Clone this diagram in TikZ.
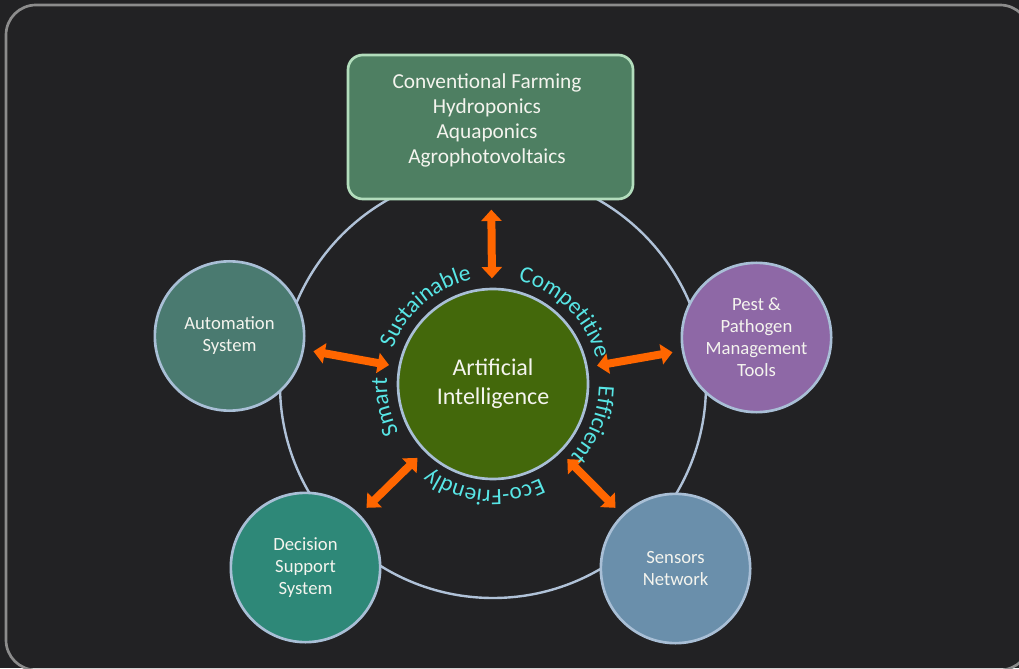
\documentclass[tikz,border=0pt]{standalone}
\usepackage{fontspec}
\setmainfont{Carlito}
\usetikzlibrary{arrows.meta,decorations.text}

\definecolor{bgdark}{HTML}{222224}
\definecolor{framegray}{HTML}{8C8C8C}
\definecolor{ringblue}{HTML}{B0C2D8}
\definecolor{edgeblue}{HTML}{A9BFD6}
\definecolor{farmgreen}{HTML}{4E7F62}
\definecolor{farmedge}{HTML}{B2DDBC}
\definecolor{aigreen}{HTML}{43680B}
\definecolor{autoteal}{HTML}{4A7A70}
\definecolor{pestpurple}{HTML}{8E68A6}
\definecolor{dssteal}{HTML}{2E8878}
\definecolor{sensblue}{HTML}{6A8FAB}
\definecolor{aicyan}{HTML}{58E6E6}
\definecolor{arrorange}{HTML}{FF6600}
\definecolor{softwhite}{HTML}{F4F4EE}

\newcommand\wordfont{\fontsize{17.5}{21}\selectfont\color{aicyan}}

\tikzset{
	sat/.style={circle,draw=edgeblue,line width=2pt,fill=#1,minimum size=112pt,
		align=center,text=softwhite,font=\fontsize{14}{16.5}\selectfont},
	link/.style={{Triangle[width=15pt,length=8.5pt]}-{Triangle[width=15pt,length=8.5pt]},
		draw=arrorange,line width=6pt,shorten <=7pt,shorten >=7pt},
	curvedword/.style={decorate,decoration={text along path,text align=center,
		text={|\wordfont|#1}}},
}

\begin{document}
\begin{tikzpicture}[x=0.75pt,y=0.75pt]
	%\draw[help lines] (0,0) grid[step=50] (1019,668);
	\useasboundingbox (0,0) rectangle (1019,668);
	\fill[bgdark] (0,0) rectangle (1019,668);
	\draw[framegray,line width=2pt,rounded corners=22.5pt] (6,-2) rectangle (1030,663);

	\node[circle,minimum size=319.5pt] (ring) at (493,283) {};
	\draw[ringblue,line width=1.8pt] (ring) circle (213);

	\node[draw=farmedge,fill=farmgreen,line width=2pt,rounded corners=11pt,
		minimum width=213.75pt,minimum height=108pt] (farm) at (490.5,541) {};
	\node[align=center,text=softwhite,font=\fontsize{16}{18.75}\selectfont]
		(farmtext) at (487,547.5) {Conventional Farming\\Hydroponics\\Aquaponics\\Agrophotovoltaics};

	\node[circle,draw=edgeblue,line width=2pt,fill=aigreen,minimum size=142.5pt,
		align=center,text=softwhite,font=\fontsize{18}{21.75}\selectfont]
		(ai) at (493,284) {Artificial\\Intelligence};

	\node[sat=autoteal] (auto) at (229.5,332) {Automation\\System};
	\node[sat=pestpurple] (pest) at (756.5,330.5) {Pest \&\\Pathogen\\Management\\Tools};
	\node[sat=dssteal] (dss) at (305.5,100.5) {Decision\\Support\\System};
	\node[sat=sensblue] (sensors) at (675.5,99.5) {Sensors\\Network};

	\draw[link] (farm) -- (ai);
	\draw[link] (auto) -- (ai);
	\draw[link] (pest) -- (ai);
	\draw[link] (dss) -- (ai);
	\draw[link] (sensors) -- (ai);

	% words round the hub, read clockwise
	\path[curvedword=Smart] (ai.center) ++(242:106) arc[start angle=242,end angle=142,radius=106];
	\path[curvedword=Sustainable] (ai.center) ++(181:106) arc[start angle=181,end angle=81,radius=106];
	\path[curvedword=Competitive] (ai.center) ++(95:106) arc[start angle=95,end angle=-5,radius=106];
	\path[curvedword=Efficient] (ai.center) ++(28:106) arc[start angle=28,end angle=-72,radius=106];
	\path[curvedword=Eco-Friendly] (ai.center) ++(-45:106) arc[start angle=-45,end angle=-145,radius=106];
\end{tikzpicture}
\end{document}
